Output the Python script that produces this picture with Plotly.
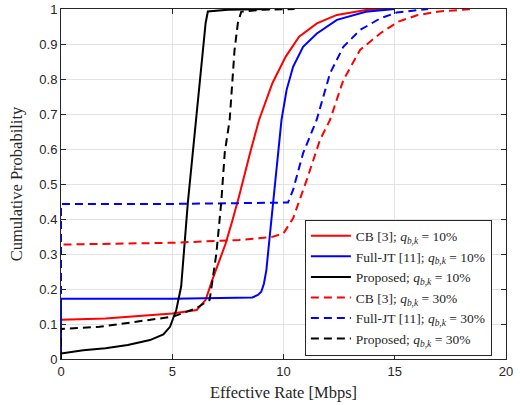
import plotly.graph_objects as go

# CDF points (x = effective rate in Mbps, y = cumulative probability)
cb10_x = [0, 0, 2.0, 5.0, 6.1, 6.5, 6.8, 7.1, 7.4, 7.7, 8.0, 8.5, 8.9, 9.5, 10.1, 10.7, 11.5, 12.4, 13.7, 14.5]
cb10_y = [0, 0.112, 0.116, 0.13, 0.14, 0.169, 0.226, 0.28, 0.33, 0.395, 0.464, 0.589, 0.683, 0.788, 0.864, 0.921, 0.959, 0.983, 0.997, 1.0]

jt10_x = [0, 0, 5.0, 8.6, 8.85, 9.0, 9.12, 9.23, 9.38, 9.53, 9.71, 9.91, 10.14, 10.43, 10.88, 11.5, 12.4, 13.7, 15.0]
jt10_y = [0, 0.172, 0.172, 0.176, 0.183, 0.192, 0.215, 0.254, 0.35, 0.445, 0.569, 0.683, 0.769, 0.835, 0.892, 0.93, 0.969, 0.992, 1.0]

prop10_x = [0, 0, 1.0, 2.0, 3.0, 4.0, 4.6, 4.9, 5.18, 5.4, 5.7, 6.08, 6.38, 6.5, 6.6, 7.5, 9.4]
prop10_y = [0, 0.016, 0.025, 0.031, 0.04, 0.054, 0.07, 0.092, 0.14, 0.207, 0.446, 0.683, 0.883, 0.96, 0.993, 0.998, 1.0]

cb30_x = [0, 0, 5.0, 8.0, 9.5, 10.0, 10.43, 11.04, 11.64, 12.09, 12.69, 13.44, 14.34, 15.16, 16.0, 17.0, 18.5]
cb30_y = [0, 0.327, 0.332, 0.34, 0.349, 0.359, 0.402, 0.511, 0.626, 0.683, 0.797, 0.883, 0.93, 0.964, 0.982, 0.993, 1.0]

jt30_x = [0, 0, 5.0, 10.2, 10.43, 10.88, 11.49, 12.09, 12.69, 13.44, 14.34, 15.09, 16.5]
jt30_y = [0, 0.443, 0.443, 0.447, 0.483, 0.588, 0.683, 0.816, 0.892, 0.94, 0.973, 0.99, 1.0]

prop30_x = [0, 0, 1.73, 3.53, 5.03, 6.08, 6.68, 6.98, 7.2, 7.36, 7.58, 7.8, 7.95, 8.1, 9.0, 10.5]
prop30_y = [0, 0.086, 0.092, 0.107, 0.121, 0.145, 0.169, 0.30, 0.446, 0.59, 0.683, 0.883, 0.96, 0.992, 0.998, 1.0]

q = "<i>q</i><sub><i>b,k</i></sub>"
series = [
    ("CB [3]; " + q + " = 10%", cb10_x, cb10_y, "#ff0000", "solid"),
    ("Full-JT [11]; " + q + " = 10%", jt10_x, jt10_y, "#0000ff", "solid"),
    ("Proposed; " + q + " = 10%", prop10_x, prop10_y, "#000000", "solid"),
    ("CB [3]; " + q + " = 30%", cb30_x, cb30_y, "#ff0000", "8px,5px"),
    ("Full-JT [11]; " + q + " = 30%", jt30_x, jt30_y, "#0000ff", "8px,5px"),
    ("Proposed; " + q + " = 30%", prop30_x, prop30_y, "#000000", "8px,5px"),
]

fig = go.Figure()
for name, xs, ys, color, dash in series:
    fig.add_trace(go.Scatter(
        x=xs, y=ys, mode="lines", name=name,
        line=dict(color=color, width=2, dash=dash),
    ))

axis_style = dict(
    showline=True, linecolor="#262626", linewidth=1, mirror="ticks",
    ticks="inside", ticklen=5, tickcolor="#262626",
    showgrid=True, gridcolor="#e3e3e3", gridwidth=1, zeroline=False,
    automargin=False,
    tickfont=dict(family="Liberation Sans, Arial", size=13, color="#262626"),
)
title_font = dict(family="Liberation Serif, serif", size=16.5, color="#262626")

fig.update_xaxes(range=[0, 20], tickvals=[0, 5, 10, 15, 20],
                 title=dict(text="Effective Rate [Mbps]", standoff=8, font=title_font),
                 **axis_style)
fig.update_yaxes(range=[0, 1], tickvals=[i / 10 for i in range(11)],
                 ticktext=["0", "0.1", "0.2", "0.3", "0.4", "0.5", "0.6", "0.7", "0.8", "0.9", "1"],
                 title=dict(text="Cumulative Probability", standoff=12, font=title_font),
                 **axis_style)

fig.update_layout(
    width=520, height=405,
    margin=dict(l=61, r=14, t=9, b=46),
    paper_bgcolor="white", plot_bgcolor="white",
    showlegend=True,
    legend=dict(
        x=0.548, y=0.01, xanchor="left", yanchor="bottom",
        bgcolor="white", bordercolor="#262626", borderwidth=1,
        font=dict(family="Liberation Serif, serif", size=13.5, color="#262626"),
        tracegroupgap=0, itemwidth=40,
    ),
)

fig.write_html("out.html", config={"displayModeBar": False},
               post_script="document.body.style.margin='0';")
